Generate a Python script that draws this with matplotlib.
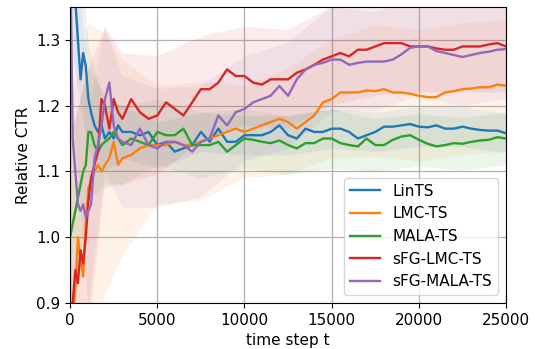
import numpy as np
import matplotlib
matplotlib.use('Agg')
import matplotlib.pyplot as plt

# sample points (time step t)
T = [0, 150, 300, 450, 600, 750, 900, 1050, 1200, 1400, 1600, 1800,
     2000, 2250, 2500, 2750] + list(range(3000, 25001, 500))

lints = [1.45, 1.42, 1.36, 1.30, 1.24, 1.28, 1.26, 1.21, 1.19, 1.17, 1.16, 1.17, 1.15, 1.16, 1.15, 1.17,
         1.16, 1.16, 1.155, 1.16, 1.14, 1.145,
         1.13, 1.135, 1.14, 1.16, 1.145, 1.165, 1.145, 1.145, 1.155, 1.155, 1.155, 1.16, 1.17,
         1.155, 1.15, 1.165, 1.16, 1.16, 1.165, 1.165, 1.16, 1.15, 1.155, 1.16, 1.168,
         1.168, 1.17, 1.172, 1.168, 1.167, 1.17, 1.165, 1.165, 1.168, 1.165, 1.163, 1.162, 1.162, 1.158]

lmc_ts = [0.85, 0.88, 0.92, 1.00, 0.965, 0.94, 1.02, 1.075, 1.085, 1.10, 1.11, 1.10, 1.11, 1.12, 1.145, 1.11,
          1.12, 1.125, 1.135, 1.14, 1.14, 1.14,
          1.145, 1.14, 1.14, 1.145, 1.15, 1.155, 1.16, 1.165, 1.16, 1.165, 1.17, 1.175, 1.18,
          1.175, 1.165, 1.175, 1.185, 1.205, 1.21, 1.22, 1.22, 1.22, 1.223, 1.222, 1.225,
          1.22, 1.22, 1.218, 1.215, 1.213, 1.213, 1.22, 1.222, 1.225, 1.226, 1.228, 1.228, 1.232, 1.23]

mala_ts = [1.00, 1.02, 1.04, 1.06, 1.08, 1.10, 1.11, 1.16, 1.16, 1.14, 1.13, 1.14, 1.145, 1.15, 1.16, 1.15,
           1.14, 1.15, 1.145, 1.14, 1.16, 1.155,
           1.155, 1.165, 1.14, 1.14, 1.14, 1.145, 1.13, 1.14, 1.15, 1.148, 1.145, 1.143, 1.147,
           1.14, 1.135, 1.143, 1.143, 1.15, 1.15, 1.143, 1.14, 1.138, 1.15, 1.14, 1.14,
           1.148, 1.153, 1.155, 1.148, 1.142, 1.138, 1.14, 1.143, 1.142, 1.145, 1.147, 1.148, 1.152, 1.15]

sfg_lmc = [0.85, 0.90, 0.95, 0.93, 0.98, 0.96, 1.00, 1.055, 1.09, 1.11, 1.13, 1.21, 1.20, 1.165, 1.21, 1.19,
           1.18, 1.21, 1.19, 1.18, 1.185, 1.205,
           1.195, 1.185, 1.205, 1.225, 1.225, 1.235, 1.255, 1.245, 1.245, 1.235, 1.232, 1.24, 1.24,
           1.24, 1.25, 1.255, 1.262, 1.27, 1.275, 1.28, 1.275, 1.285, 1.285, 1.29, 1.295,
           1.295, 1.295, 1.29, 1.29, 1.29, 1.287, 1.285, 1.285, 1.29, 1.29, 1.29, 1.293, 1.295, 1.29]

sfg_mala = [1.45, 1.15, 1.10, 1.05, 1.04, 1.05, 1.03, 1.04, 1.05, 1.12, 1.14, 1.17, 1.21, 1.235, 1.17, 1.15,
            1.145, 1.14, 1.165, 1.14, 1.135, 1.145,
            1.145, 1.14, 1.13, 1.145, 1.15, 1.185, 1.17, 1.19, 1.195, 1.205, 1.21, 1.215, 1.23,
            1.215, 1.24, 1.255, 1.262, 1.265, 1.27, 1.27, 1.262, 1.265, 1.267, 1.267, 1.267,
            1.27, 1.278, 1.288, 1.29, 1.29, 1.283, 1.28, 1.277, 1.274, 1.277, 1.28, 1.282, 1.285, 1.286]

# shaded band half-widths on a coarser grid
BAND_T = [0, 1050, 2000, 3000, 5000, 7500, 10000, 12500, 15000, 17500, 20000, 22500, 25000]
band_lints = [0.15, 0.08, 0.05, 0.04, 0.035, 0.03, 0.03, 0.03, 0.03, 0.03, 0.03, 0.03, 0.03]
band_lmc = [0.35, 0.25, 0.20, 0.15, 0.09, 0.09, 0.07, 0.08, 0.09, 0.10, 0.10, 0.10, 0.10]
band_mala = [0.15, 0.10, 0.07, 0.06, 0.05, 0.05, 0.045, 0.045, 0.045, 0.04, 0.04, 0.04, 0.04]
band_sfg_lmc = [0.30, 0.20, 0.12, 0.10, 0.09, 0.08, 0.075, 0.075, 0.075, 0.075, 0.07, 0.07, 0.07]
band_sfg_mala = [0.20, 0.15, 0.11, 0.10, 0.09, 0.085, 0.08, 0.08, 0.08, 0.075, 0.075, 0.075, 0.075]

labels = ['LinTS', 'LMC-TS', 'MALA-TS', 'sFG-LMC-TS', 'sFG-MALA-TS']
series = [lints, lmc_ts, mala_ts, sfg_lmc, sfg_mala]
bands = [band_lints, band_lmc, band_mala, band_sfg_lmc, band_sfg_mala]
colors = ['#1f77b4', '#ff7f0e', '#2ca02c', '#d62728', '#9467bd']

plt.rcParams.update({'font.family': 'DejaVu Sans', 'font.size': 11})

fig = plt.figure(figsize=(5.35, 3.49), dpi=100)
ax = fig.add_axes([0.131, 0.132, 0.815, 0.848])

idx = [T.index(b) for b in BAND_T]
for vals, band, c in zip(series, bands, colors):
    centre = np.array(vals)[idx]
    ax.fill_between(BAND_T, centre - np.array(band), centre + np.array(band),
                    color=c, alpha=0.09, linewidth=0)

for vals, lab, c in zip(series, labels, colors):
    ax.plot(T, vals, color=c, lw=1.7, label=lab)

ax.set_xlim(0, 25000)
ax.set_ylim(0.9, 1.35)
ax.set_xticks([0, 5000, 10000, 15000, 20000, 25000])
ax.set_yticks([0.9, 1.0, 1.1, 1.2, 1.3])
ax.grid(True, color='#b0b0b0', linewidth=0.9)
ax.set_axisbelow(True)
ax.set_xlabel('time step t')
ax.set_ylabel('Relative CTR')
ax.legend(loc='lower right', fontsize=11)

fig.savefig('out.png', dpi=100)
